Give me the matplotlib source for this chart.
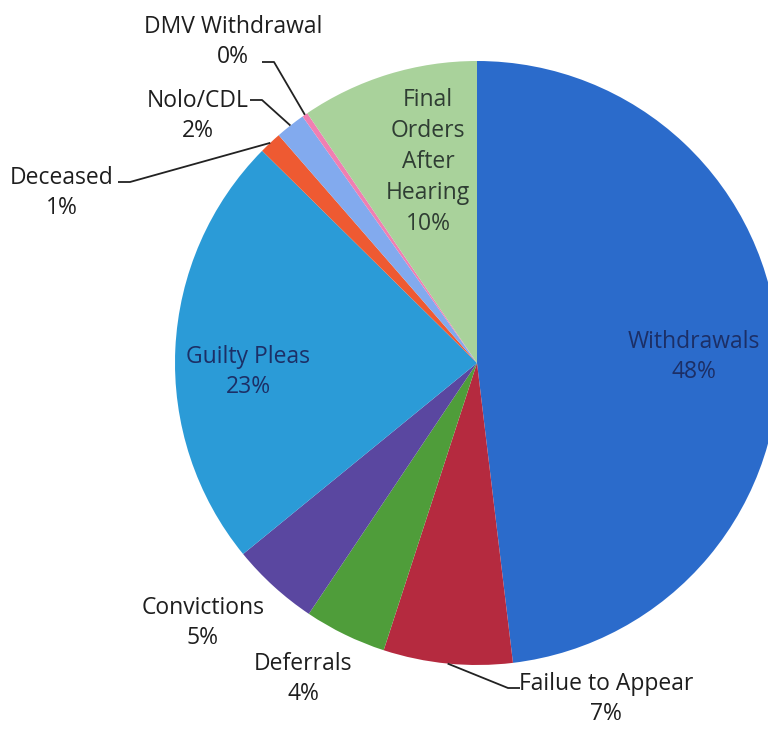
import numpy as np
import matplotlib
matplotlib.use("Agg")
import matplotlib.pyplot as plt

plt.rcParams['font.family'] = ['Open Sans', 'DejaVu Sans']

# Case outcomes, shares in percent (clockwise from 12 o'clock)
categories = ["Withdrawals", "Failue to Appear", "Deferrals", "Convictions",
              "Guilty Pleas", "Deceased", "Nolo/CDL", "DMV Withdrawal",
              "Final\nOrders\nAfter\nHearing"]
shares = [48.1, 6.9, 4.4, 4.7, 23.3, 1.2, 1.6, 0.3, 9.5]
colors = ["#2b6bcb", "#b52a3f", "#4f9d3a", "#5a47a0", "#2b9bd7",
          "#ee5a32", "#82aaee", "#f07fb2", "#a9d29b"]

W, H = 768, 729
CX, CY, R = 477, 366, 302   # pie centre (px from bottom-left) and radius


def px(x, y_top):
    """Pixel position (y measured from the top) -> data coordinates."""
    return (x - CX) / R, ((H - y_top) - CY) / R


fig = plt.figure(figsize=(W / 100, H / 100), dpi=100)
ax = fig.add_axes([0, 0, 1, 1])
ax.axis('off')

wedges, _ = ax.pie(shares, colors=colors, startangle=90, counterclock=False,
                   radius=1.0, center=(0, 0),
                   wedgeprops=dict(linewidth=0))
ax.set_aspect('auto')
ax.set_xlim(-CX / R, (W - CX) / R)
ax.set_ylim(-CY / R, (H - CY) / R)


def pct(v):
    return f"{int(round(v))}%"


def mid_point(w, r=1.0):
    a = np.deg2rad((w.theta1 + w.theta2) / 2)
    return r * np.cos(a), r * np.sin(a)


FS = 16.5
LS = 1.38

# labels drawn inside their slices
inside = {0: ((694, 357), "#1c2f66"),
          4: ((248, 372), "#1c2f66"),
          8: ((428, 162), "#2f3d33")}
for i, ((x, y), c) in inside.items():
    tx, ty = px(x, y)
    ax.text(tx, ty, f"{categories[i]}\n{pct(shares[i])}", ha='center',
            va='center', fontsize=FS, color=c, linespacing=LS)

# labels placed outside the pie, some with leader lines
outside = {
    7: ((233, 42), (262, 62), 'right'),
    6: ((198, 116), (250, 100), 'right'),
    5: ((62, 193), (118, 182), 'right'),
    3: ((203, 623), None, None),
    2: ((303, 679), None, None),
    1: ((606, 699), (520, 688), 'left'),
}
for i, ((x, y), anchor, side) in outside.items():
    tx, ty = px(x, y)
    ax.text(tx, ty, f"{categories[i]}\n{pct(shares[i])}", ha='center',
            va='center', fontsize=FS, color="#1e1e1e", linespacing=LS)
    if anchor is not None:
        ax_, ay_ = px(*anchor)
        step = 12 / R if side == 'right' else -12 / R
        ex, ey = mid_point(wedges[i])
        ax.plot([ax_, ax_ + step, ex], [ay_, ay_, ey], color="#222222",
                lw=1.3, solid_capstyle='butt')

fig.savefig("out.png", dpi=100, facecolor="white")
